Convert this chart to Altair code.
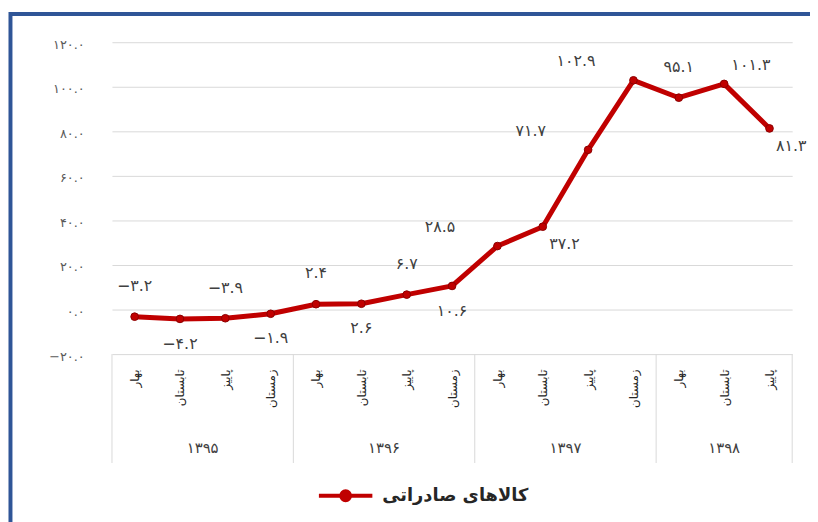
import altair as alt
import pandas as pd

# ---- data ----
years = ["۱۳۹۵", "۱۳۹۶", "۱۳۹۷", "۱۳۹۸"]
quarters_per_year = [4, 4, 4, 3]
quarter_names = ["بهار", "تابستان", "پاییز", "زمستان"]
values = [-3.2, -4.2, -3.9, -1.9, 2.4, 2.6, 6.7, 10.6, 28.5, 37.2, 71.7, 102.9, 95.1, 101.3, 81.3]
label_place = ["above", "below", "above", "below", "above", "below", "above", "below",
               "upleft", "downright", "upleft", "upleft", "above", "upright", "downright"]
series_name = "کالاهای صادراتی"
y_ticks = [-20, 0, 20, 40, 60, 80, 100, 120]

# ---- styles ----
RED = "#C00000"
BLUE = "#2F5597"
FONT = "DejaVu Sans"
W, H = 687, 315

FA = str.maketrans("0123456789-", "۰۱۲۳۴۵۶۷۸۹−")


def fa(x):
    return f"{x:.1f}".translate(FA)


n = len(values)
idx = list(range(n))
point_quarters = [quarter_names[q] for c in quarters_per_year for q in range(c)]

df = pd.DataFrame({
    "i": idx,
    "v": values,
    "lab": [fa(v) for v in values],
    "place": label_place,
    "series": [series_name] * n,
})

# year group centres and boundaries from the counts
bounds, centers = [-0.5], []
s = 0
for c in quarters_per_year:
    centers.append(s + (c - 1) / 2)
    s += c
    bounds.append(s - 0.5)
df_years = pd.DataFrame({"year": years, "c": centers})
df_bounds = pd.DataFrame({"b": bounds})

y_expr = " : ".join(f"datum.value == {t} ? '{fa(t)}'" for t in y_ticks) + " : ''"
x_expr = "[" + ",".join(f"'{q}'" for q in point_quarters) + "][datum.value]"

x_scale = alt.Scale(domain=[-0.5, n - 0.5], nice=False, zero=False)
y_scale = alt.Scale(domain=[-20, 120], nice=False, zero=False)

x_axis = alt.Axis(
    values=idx, labelExpr=x_expr, labelAngle=-90, labelFont=FONT, labelFontSize=12,
    labelColor="#262626", ticks=False, tickSize=0, domain=False, grid=False,
    labelPadding=15, labelOverlap=False, labelFlush=False, labelBound=False, title=None)
y_axis = alt.Axis(
    values=y_ticks, labelExpr=y_expr, grid=True, gridColor="#d9d9d9", gridWidth=1,
    domain=False, ticks=False, tickSize=0, labelPadding=28, title=None,
    labelFont=FONT, labelFontSize=13, labelColor="#595959", labelOffset=2)


def X(field):
    return alt.X(field, scale=x_scale, axis=x_axis)


def Y(field):
    return alt.Y(field, scale=y_scale, axis=y_axis)


line = alt.Chart(df).mark_line(color=RED, strokeWidth=5, strokeJoin="round").encode(
    x=X("i:Q"), y=Y("v:Q"),
)

legend_path = "M-5.4,0L5.4,0M0.9,0A0.9,0.9,0,1,1,-0.9,0A0.9,0.9,0,1,1,0.9,0Z"
points = alt.Chart(df).mark_circle(size=60, opacity=1, stroke="#8B0000", strokeWidth=1).encode(
    x=X("i:Q"), y=Y("v:Q"),
    color=alt.Color("series:N", scale=alt.Scale(range=[RED]), legend=alt.Legend(
        title=None, orient="none", legendX=227, legendY=449, symbolType=legend_path,
        symbolSize=100, labelOffset=28, labelFontSize=18, labelFontWeight="bold",
        labelFont=FONT, labelColor="#262626", padding=0,
        symbolFillColor=RED, symbolStrokeColor=RED, symbolStrokeWidth=4)),
)

offsets = {
    "above": (0, -31),
    "below": (0, 25),
    "upleft": (-58, -19),
    "upright": (27, -19),
    "downright": (22, 18),
}
texts = []
for p, (dx, dy) in offsets.items():
    texts.append(
        alt.Chart(df).transform_filter(alt.datum.place == p).mark_text(
            dx=dx, dy=dy, font=FONT, fontSize=16, color="#404040", baseline="middle", align="center"
        ).encode(x=X("i:Q"), y=Y("v:Q"), text="lab:N")
    )

year_text = alt.Chart(df_years).mark_text(
    font=FONT, fontSize=15, color="#404040", baseline="middle", align="center"
).encode(
    x=X("c:Q"),
    y=alt.value(H + 95),
    text="year:N",
)

separators = alt.Chart(df_bounds).mark_rule(color="#d9d9d9", strokeWidth=1).encode(
    x=X("b:Q"),
    y=alt.value(H),
    y2=alt.value(H + 110),
)

frame = alt.Chart(pd.DataFrame({"k": [0]})).mark_rect(
    filled=False, stroke=BLUE, strokeWidth=4
).encode(
    x=alt.value(-102.5), x2=alt.value(W + 80),
    y=alt.value(-28.5), y2=alt.value(H + 260),
)

chart = alt.layer(line, frame, separators, points, *texts, year_text).properties(
    width=W, height=H,
    background="white",
    autosize=alt.AutoSizeParams(type="none"),
    padding={"left": 105, "top": 32, "right": 18, "bottom": 167},
).configure_view(stroke="transparent", strokeWidth=0)

chart.save("out.html", embed_options={"renderer": "svg", "actions": False})
